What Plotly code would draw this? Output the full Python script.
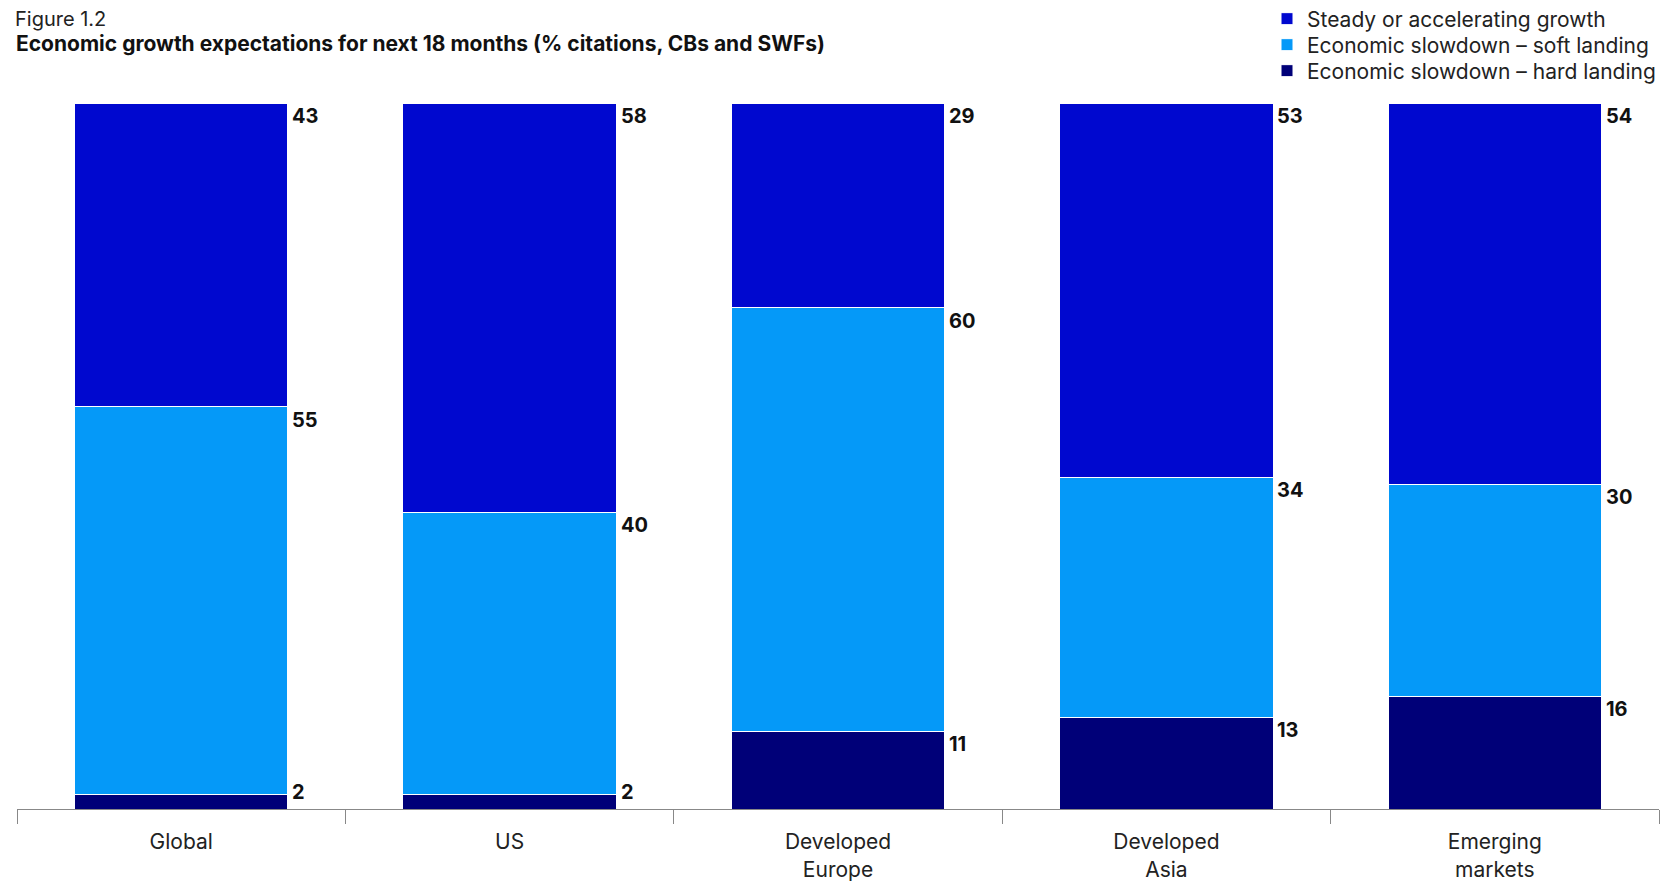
import plotly.graph_objects as go

categories = ["Global", "US", "Developed<br>Europe", "Developed<br>Asia", "Emerging<br>markets"]
hard_landing = [2, 2, 11, 13, 16]
soft_landing = [55, 40, 60, 34, 30]
steady_growth = [43, 58, 29, 53, 54]

series = [
    ("Economic slowdown – hard landing", hard_landing, "#000078", "legend3"),
    ("Economic slowdown – soft landing", soft_landing, "#0599F8", "legend2"),
    ("Steady or accelerating growth", steady_growth, "#0008CF", "legend"),
]

FONT = "Inter"
PAGE_OFFSET = 8  # default body margin of the html page
W, H = 1671 - PAGE_OFFSET, 881 - PAGE_OFFSET
# plot area in figure pixels
ML, MT = 17 - PAGE_OFFSET, 103 - PAGE_OFFSET
MR = W - (1659 - PAGE_OFFSET)
MB = H - (809 - PAGE_OFFSET)
PW, PH = W - ML - MR, H - MT - MB
LABEL_MIN_Y = 4.2  # keep small-segment labels above the axis line


def px_x(px):
    return (px - ML) / PW


def px_y(py):
    return 1 + (MT - py) / PH


fig = go.Figure()
for name, vals, col, leg in series:
    fig.add_trace(go.Bar(
        x=categories, y=vals, name=name, legend=leg,
        marker=dict(color=col, line=dict(color="white", width=1)),
        hoverinfo="x+y+name",
    ))

annotations = []
cum = [0] * len(categories)
for name, vals, col, leg in series:
    for i, v in enumerate(vals):
        cum[i] += v
        annotations.append(dict(
            x=categories[i], y=max(cum[i], LABEL_MIN_Y), xref="x", yref="y",
            text=f"<b>{v}</b>", showarrow=False,
            xanchor="left", yanchor="top", xshift=109, yshift=1,
            font=dict(family=FONT, size=20, color="#111111"),
        ))

annotations.append(dict(
    text="Figure 1.2", showarrow=False, xref="paper", yref="paper",
    x=px_x(5.5), y=px_y(11), xanchor="left", yanchor="middle", borderpad=0,
    font=dict(family=FONT, size=20, color="#222222"),
))
annotations.append(dict(
    text="<b>Economic growth expectations for next 18 months (% citations, CBs and SWFs)</b>",
    showarrow=False, xref="paper", yref="paper",
    x=px_x(5.5), y=px_y(36), xanchor="left", yanchor="middle",
    font=dict(family=FONT, size=21, color="#111111"),
))


def legend_at(row_y):
    return dict(
        x=px_x(1259), xanchor="left", xref="paper",
        y=px_y(row_y), yanchor="middle", yref="paper",
        font=dict(family=FONT, size=21, color="#222222"),
        bgcolor="rgba(0,0,0,0)",
    )


fig.update_layout(
    barmode="stack",
    bargap=0.35,
    width=W, height=H,
    margin=dict(l=ML, r=MR, t=MT, b=MB, autoexpand=False),
    plot_bgcolor="white", paper_bgcolor="white",
    font=dict(family=FONT, color="#222222"),
    legend=legend_at(11),
    legend2=legend_at(37),
    legend3=legend_at(63),
    xaxis=dict(
        type="category",
        tickson="boundaries",
        ticks="outside", ticklen=14, tickcolor="#888888", tickwidth=1,
        showline=True, linecolor="#888888", linewidth=1,
        showgrid=False,
        ticklabelstandoff=14,
        tickfont=dict(family=FONT, size=21, color="#222222"),
    ),
    yaxis=dict(range=[0, 100], visible=False, fixedrange=True),
    annotations=annotations,
    showlegend=True,
)

fig.write_html("out.html")
